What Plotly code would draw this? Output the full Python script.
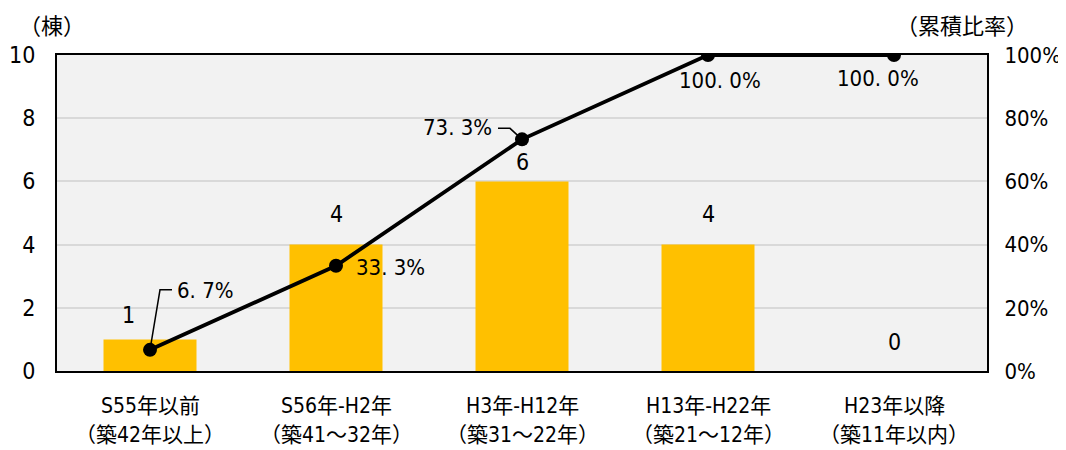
import plotly.graph_objects as go

cat_line1 = ["S55年以前", "S56年-H2年", "H3年-H12年", "H13年-H22年", "H23年以降"]
cat_line2 = ["（築42年以上）", "（築41～32年）", "（築31～22年）", "（築21～12年）", "（築11年以内）"]
counts = [1, 4, 6, 4, 0]
cumulative = [6.7, 33.3, 73.3, 100.0, 100.0]
left_ticks = [0, 2, 4, 6, 8, 10]
right_ticks = [0, 20, 40, 60, 80, 100]
right_tick_labels = ["0%", "20%", "40%", "60%", "80%", "100%"]

FONT = "DejaVu Sans Condensed, Noto Sans CJK JP, sans-serif"
CJK = "Noto Sans CJK JP, sans-serif"
x_idx = list(range(len(cat_line1)))

fig = go.Figure()
fig.add_trace(go.Bar(x=x_idx, y=counts, marker=dict(color="#FFC000", line=dict(width=0)),
                     width=0.5, showlegend=False, hoverinfo="skip"))
fig.add_trace(go.Scatter(x=x_idx, y=cumulative, yaxis="y2", mode="lines+markers",
                         line=dict(color="#000000", width=3.8),
                         marker=dict(color="#000000", size=14), showlegend=False, hoverinfo="skip"))

annotations = []
bar_offsets = [(-22, 24), (0, 31), (0, 19), (0, 31), (0, 29)]
for i, v in enumerate(counts):
    dx, dy = bar_offsets[i]
    annotations.append(dict(x=i, y=v, xref="x", yref="y", text=str(v), showarrow=False,
                            yanchor="middle", xshift=dx, yshift=dy,
                            font=dict(family=FONT, size=23, color="#000000")))

line_offsets = [(55, 59), (54, -2), (-65, 12), (12, -25), (-16, -23)]
for i, v in enumerate(cumulative):
    dx, dy = line_offsets[i]
    annotations.append(dict(x=i, y=v, xref="x", yref="y2", text=f"{v:.1f}%".replace(".", ". "),
                            showarrow=False, xshift=dx, yshift=dy,
                            font=dict(family=FONT, size=22, color="#000000")))

for i in x_idx:
    annotations.append(dict(x=i, y=0, xref="x", yref="paper", text=cat_line1[i], showarrow=False,
                            yanchor="middle", yshift=-35,
                            font=dict(family=FONT, size=21, color="#000000")))
    annotations.append(dict(x=i, y=0, xref="x", yref="paper", text=cat_line2[i], showarrow=False,
                            yanchor="middle", yshift=-64,
                            font=dict(family=FONT, size=21, color="#000000")))

annotations.append(dict(x=0, y=1, xref="paper", yref="paper", xanchor="center", yanchor="middle",
                        xshift=-5, yshift=31, text="（棟）", showarrow=False,
                        font=dict(family=CJK, size=22, color="#000000")))
annotations.append(dict(x=1, y=1, xref="paper", yref="paper", xanchor="center", yanchor="middle",
                        xshift=-25, yshift=31, text="（累積比率）", showarrow=False,
                        font=dict(family=CJK, size=22, color="#000000")))

shapes = [
    dict(type="path", xref="x", yref="y2", xsizemode="pixel", ysizemode="pixel",
         xanchor=0, yanchor=cumulative[0], path="M0,0 L10,60 L22,60",
         line=dict(color="#000000", width=1.5)),
    dict(type="path", xref="x", yref="y2", xsizemode="pixel", ysizemode="pixel",
         xanchor=2, yanchor=cumulative[2], path="M0,0 L-12,11 L-24,11",
         line=dict(color="#000000", width=1.5)),
]

fig.update_layout(
    width=1066, height=450,
    margin=dict(l=49, r=87, t=47, b=87),
    paper_bgcolor="#FFFFFF", plot_bgcolor="#F2F2F2",
    font=dict(family=FONT, size=20, color="#000000"),
    bargap=0.5,
    xaxis=dict(tickmode="array", tickvals=x_idx, showticklabels=False, range=[-0.5, 4.5],
               showgrid=False, zeroline=False, showline=True, linecolor="#000000", linewidth=2,
               mirror=True, ticks="", automargin=False),
    yaxis=dict(range=[0, 10], tickvals=left_ticks, showgrid=True, gridcolor="#D9D9D9", gridwidth=1.5,
               zeroline=False, showline=True, linecolor="#000000", linewidth=2, ticks="",
               automargin=False, ticklabelstandoff=15,
               tickfont=dict(family=FONT, size=23, color="#000000")),
    yaxis2=dict(range=[0, 100], tickvals=right_ticks, ticktext=right_tick_labels, overlaying="y",
                side="right", showgrid=False, zeroline=False, showline=True, linecolor="#000000",
                linewidth=2, ticks="", automargin=False, ticklabelstandoff=11,
                tickfont=dict(family=FONT, size=22, color="#000000")),
    annotations=annotations,
    shapes=shapes,
)

fig.write_html("out.html")
